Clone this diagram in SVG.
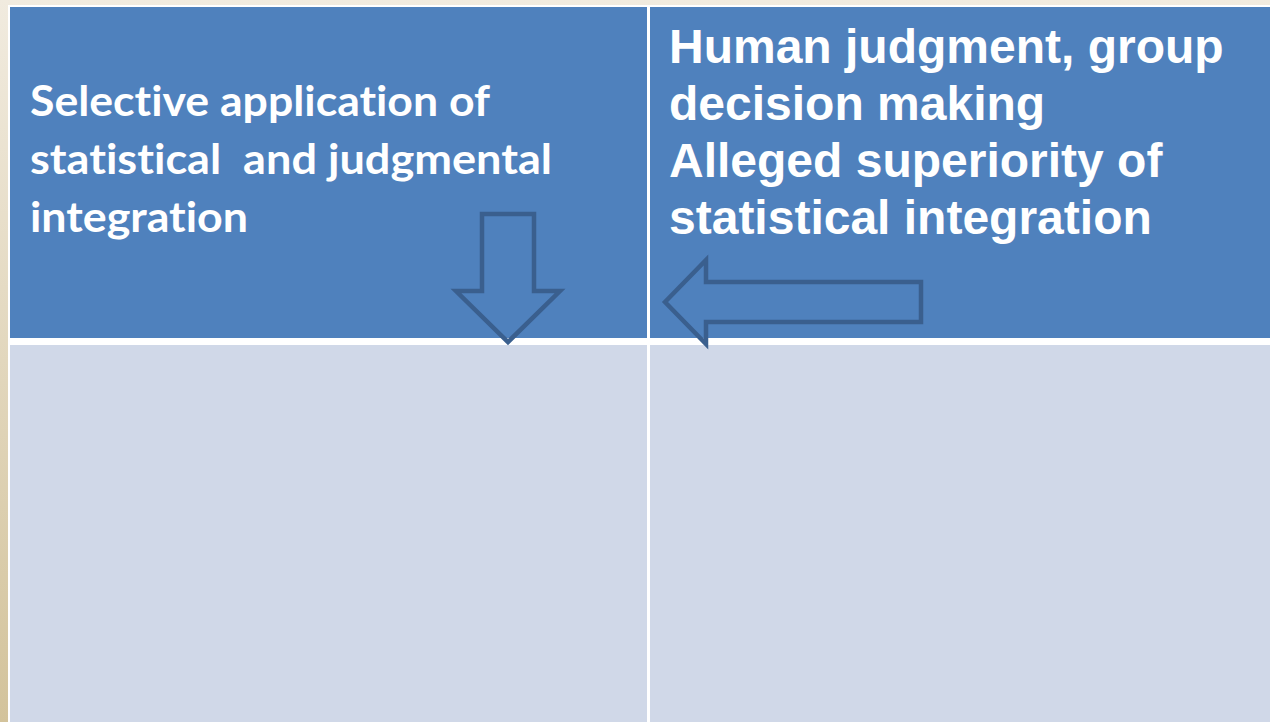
<svg xmlns="http://www.w3.org/2000/svg" width="1270" height="722" viewBox="0 0 1270 722">
<defs>
<linearGradient id="bg" x1="0" y1="0" x2="0" y2="1">
<stop offset="0" stop-color="#f1ebdf"/>
<stop offset="1" stop-color="#d3c39b"/>
</linearGradient>
<style>
.hdr{fill:#4f81bd}
.body{fill:#d0d8e8}
.arrow{fill:none;stroke:#3a5f8e;stroke-width:4.5;stroke-linejoin:miter}
.tl{font-family:Lato,"Open Sans",sans-serif;font-weight:bold;font-size:42px;fill:#ffffff;font-variant-ligatures:none}
.tr{font-family:"Liberation Sans",Arial,sans-serif;font-weight:bold;font-size:48px;fill:#ffffff}
</style>
</defs>
<rect x="0" y="0" width="1270" height="722" fill="url(#bg)"/>
<rect x="8" y="5" width="1262" height="717" fill="#ffffff"/>
<g id="cell-top-left">
<rect class="hdr" x="10" y="7" width="637" height="331"/>
<text class="tl" x="30" y="116" textLength="460" lengthAdjust="spacingAndGlyphs">Selective application of</text>
<text class="tl" x="30" y="174" xml:space="preserve" textLength="522" lengthAdjust="spacingAndGlyphs">statistical  and judgmental</text>
<text class="tl" x="30" y="232" textLength="218" lengthAdjust="spacingAndGlyphs">integration</text>
</g>
<g id="cell-top-right">
<rect class="hdr" x="650" y="7" width="620" height="331"/>
<text class="tr" x="669" y="63">Human judgment, group</text>
<text class="tr" x="669" y="120">decision making</text>
<text class="tr" x="669" y="177">Alleged superiority of</text>
<text class="tr" x="669" y="234">statistical integration</text>
</g>
<g id="cell-bottom-left">
<rect class="body" x="10" y="345" width="637" height="377"/>
</g>
<g id="cell-bottom-right">
<rect class="body" x="650" y="345" width="620" height="377"/>
</g>
<g id="connectors">
<polygon class="arrow" points="482,214 534,214 534,291 560,291 508,342 456,291 482,291"/>
<polygon class="arrow" points="665,302 706,260 706,282 921,282 921,322 706,322 706,344"/>
</g>
</svg>
